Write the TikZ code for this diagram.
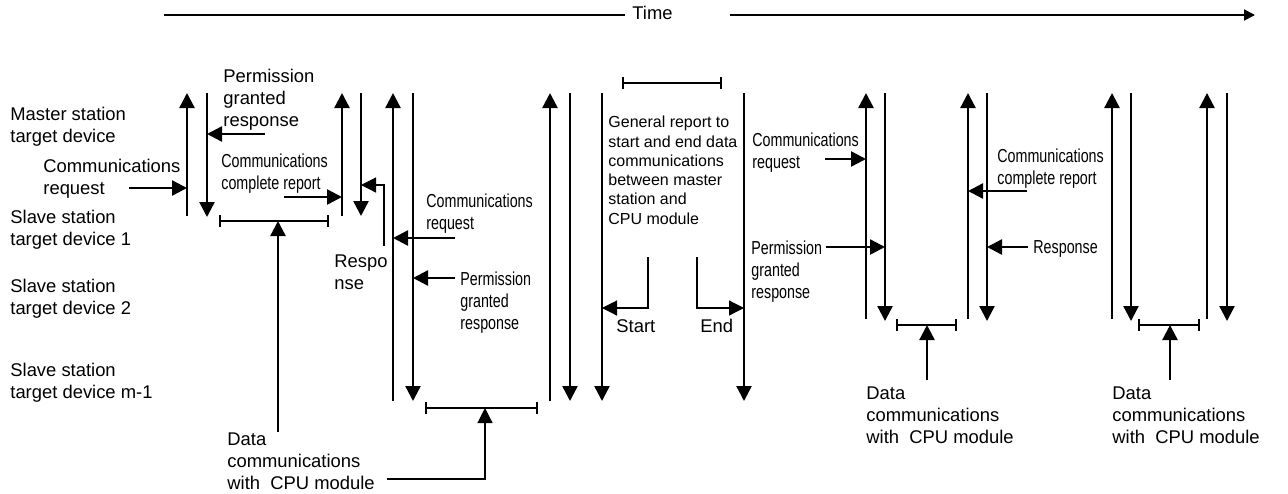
\documentclass[tikz,border=0pt]{standalone}
\usepackage{fontspec}
\setmainfont{Liberation Sans}
\newfontfamily\narrowfont[FakeStretch=0.76]{Liberation Sans}
\usetikzlibrary{arrows.meta}

\begin{document}
\begin{tikzpicture}[x=0.5pt, y=-0.5pt,
  every node/.style={inner sep=0pt, anchor=north west, align=left,
    font=\fontsize{9.2}{11}\selectfont},
  narrow/.style={font=\narrowfont\fontsize{9.4}{11}\selectfont},
  small/.style={font=\fontsize{8}{9.6}\selectfont},
  msg/.style={line width=1.2pt, -{Triangle[length=7.5pt,width=7.5pt]}},
  elbow/.style={line width=0.6pt, -{Triangle[length=7.5pt,width=7.5pt]}},
  span/.style={line width=1.2pt, {Bar[width=6pt]}-{Bar[width=6pt]}},
  axis/.style={line width=0.9pt}]
  \useasboundingbox (0,0) rectangle (1288,493);

  % Time axis
  \node (time) at (632,6) {Time};
  \coordinate (t0) at (164,15);
  \coordinate (t1) at (625,15);
  \coordinate (t2) at (730,15);
  \coordinate (t3) at (1255,15);
  \draw[axis] (t0) -- (t1);
  \draw[axis, -{Triangle[length=5.5pt,width=5.5pt]}] (t2) -- (t3);

  % Row labels
  \node (master) at (10,107) {Master station\\target device};
  \node (slave1) at (10,210) {Slave station\\target device 1};
  \node (slave2) at (10,279) {Slave station\\target device 2};
  \node (slavem) at (10,363) {Slave station\\target device m-1};

  % Vertical lines (1 = up, 0 = down)
  \foreach \n/\x/\bot/\up in {
    1/187/216/1, 2/207/217/0, 3/342/216/1, 4/361/216/0,
    5/393/401/1, 6/413/401/0, 7/550/401/1, 8/570/401/0,
    9/602/401/0, 10/744/401/0,
    11/866/319/1, 12/885/321/0, 13/968/319/1, 14/987/321/0,
    15/1112/319/1, 16/1131/321/0, 17/1207/319/1, 18/1227/321/0
  } {
    \coordinate (top\n) at (\x,93);
    \coordinate (bot\n) at (\x,\bot);
    \ifnum\up=1
      \draw[msg] (bot\n) -- (top\n);
    \else
      \draw[msg] (top\n) -- (bot\n);
    \fi
  }

  % First transfer
  \node (req1) at (43,159) {Communications\\request};
  \coordinate (req1a) at (129,188);
  \draw[msg] (req1a) -- (req1a -| top1);
  \node (perm1) at (223,69) {Permission\\granted\\response};
  \coordinate (perm1a) at (265,134);
  \draw[msg] (perm1a) -- (perm1a -| top2);
  \node[narrow] (done1) at (221,153) {Communications\\complete report};
  \coordinate (done1a) at (284,197);
  \draw[msg] (done1a) -- (done1a -| top3);
  \node (resp1) at (334,254) {Respo\\nse};
  \coordinate (resp1a) at (384,246);
  \coordinate (resp1k) at (384,185);
  \draw[elbow] (resp1a) -- (resp1k) -- (resp1k -| top4);

  % Second transfer
  \node[narrow] (req2) at (426,193) {Communications\\request};
  \coordinate (req2a) at (455,238);
  \draw[msg] (req2a) -- (req2a -| top5);
  \node[narrow] (perm2) at (460,271) {Permission\\granted\\response};
  \coordinate (perm2a) at (455,278);
  \draw[msg] (perm2a) -- (perm2a -| top6);

  % Data communications with CPU module (left)
  \coordinate (span1l) at (219,221);
  \coordinate (span1r) at (329,221);
  \draw[span] (span1l) -- (span1r);
  \coordinate (span2l) at (425,408);
  \coordinate (span2r) at (538,408);
  \coordinate (span2m) at (485,408);
  \draw[span] (span2l) -- (span2r);
  \node (data1) at (227,432) {Data\\communications\\with\ \ CPU module};
  \coordinate (ptr1) at (278,432);
  \draw[msg] (ptr1) -- (ptr1 |- span1l);
  \coordinate (ptr2) at (387,479);
  \draw[elbow] (ptr2) -| (span2m);

  % General report
  \coordinate (span5l) at (622,83);
  \coordinate (span5r) at (722,83);
  \draw[span] (span5l) -- (span5r);
  \node[small] (general) at (608,116)
    {General report to\\start and end data\\communications\\between master\\station and\\CPU module};
  \coordinate (starta) at (648,257);
  \coordinate (startk) at (648,308);
  \draw[elbow] (starta) -- (startk) -- (startk -| top9);
  \node (start) at (616,319) {Start};
  \coordinate (enda) at (697,257);
  \coordinate (endk) at (697,308);
  \draw[elbow] (enda) -- (endk) -- (endk -| top10);
  \node (end) at (700,319) {End};

  % Third transfer
  \node[narrow] (req3) at (752,132) {Communications\\request};
  \coordinate (req3a) at (825,159);
  \draw[msg] (req3a) -- (req3a -| top11);
  \node[narrow] (perm3) at (751,240) {Permission\\granted\\response};
  \coordinate (perm3a) at (826,247);
  \draw[msg] (perm3a) -- (perm3a -| top12);
  \node[narrow] (done3) at (997,148) {Communications\\complete report};
  \coordinate (done3a) at (1027,191);
  \draw[msg] (done3a) -- (done3a -| top13);
  \node[narrow] (resp3) at (1033,240) {Response};
  \coordinate (resp3a) at (1028,247);
  \draw[msg] (resp3a) -- (resp3a -| top14);

  % Data communications with CPU module (right)
  \coordinate (span3l) at (896,325);
  \coordinate (span3r) at (957,325);
  \draw[span] (span3l) -- (span3r);
  \coordinate (ptr3) at (927,380);
  \draw[msg] (ptr3) -- (ptr3 |- span3l);
  \node (data3) at (866,386) {Data\\communications\\with\ \ CPU module};
  \coordinate (span4l) at (1138,325);
  \coordinate (span4r) at (1200,325);
  \draw[span] (span4l) -- (span4r);
  \coordinate (ptr4) at (1170,380);
  \draw[msg] (ptr4) -- (ptr4 |- span4l);
  \node (data4) at (1112,386) {Data\\communications\\with\ \ CPU module};
\end{tikzpicture}
\end{document}
